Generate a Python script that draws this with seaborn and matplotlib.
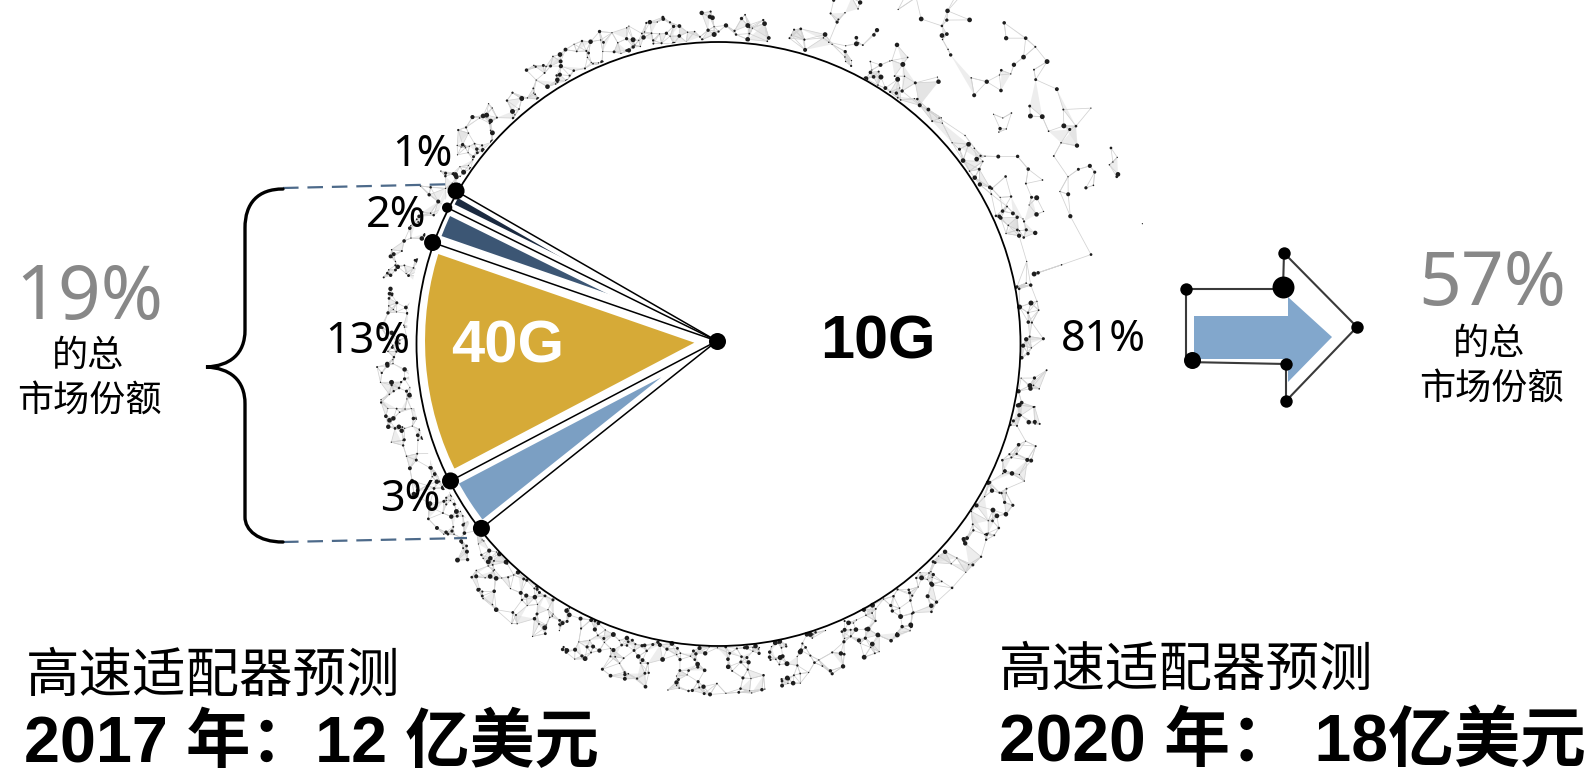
import numpy as np
import pandas as pd
import matplotlib
matplotlib.use("Agg")
import matplotlib.pyplot as plt
import seaborn as sns
from matplotlib.patches import Circle, Polygon, PathPatch
from matplotlib.path import Path
from matplotlib.collections import LineCollection, PolyCollection

# ---------------- data ----------------
slice_names = ["10G", "", "", "40G", ""]
slice_shares = [81, 1, 2, 13, 3]          # % of 2017 adapter market
slice_colors = ["#ffffff", "#1b2a40", "#3c5674", "#d6aa37", "#7b9fc3"]
share_2020 = 57                            # % of total market in 2020
forecast_title = "高速适配器预测"
forecast_years = [2017, 2020]
forecast_revenue = [12, 18]                # 亿美元
share_caption = ["的总", "市场份额"]

# ---------------- canvas ----------------
W, H = 1586, 776
sns.set_theme(style="white")
SANS = ["Noto Sans", "Noto Sans CJK SC", "DejaVu Sans"]
CJK = ["Noto Sans CJK SC", "DejaVu Sans"]
BOLD = ["Liberation Sans", "Noto Sans CJK SC", "DejaVu Sans"]
plt.rcParams["font.family"] = SANS

fig = plt.figure(figsize=(W / 100, H / 100), dpi=100)
ax = fig.add_axes([0, 0, 1, 1])


def P(x, y):
    """screen pixel (y down) -> axes coordinates (y up)"""
    return (x, H - y)


def label(x, y, s, size, color="black", weight="normal", family=SANS,
          ha="center", va="center", z=6):
    ax.text(x, H - y, s, fontsize=size, color=color, fontweight=weight,
            family=family, ha=ha, va=va, zorder=z)


# ---------------- decorative particle ring ----------------
def hsh(i, k):
    # cheap deterministic scatter for the texture
    v = np.sin(i * 12.9898 + k * 78.233) * 43758.5453
    return v - np.floor(v)


def mesh(pts, k_lines, max_len, tri_every, tri_len):
    d = np.hypot(pts[:, None, 0] - pts[None, :, 0], pts[:, None, 1] - pts[None, :, 1])
    np.fill_diagonal(d, np.inf)
    nn = np.argsort(d, axis=1)[:, :4]
    segs, tris = [], []
    for i in range(len(pts)):
        for j in nn[i, :k_lines]:
            if d[i, j] < max_len:
                segs.append([pts[i], pts[j]])
        if i % tri_every == 0:
            j, k = nn[i, 1], nn[i, 3]
            if d[i, j] < tri_len and d[i, k] < tri_len:
                tris.append([pts[i], pts[j], pts[k]])
    return segs, tris


ring_c = np.array(P(718.5, 344))
ring_R = 302

n = 1900
idx = np.arange(1, n + 1, dtype=float)
th = hsh(idx, 1) * 360
knots = [0, 30, 60, 90, 120, 150, 180, 210, 240, 270, 300, 330, 360]
band_w = [28, 20, 24, 30, 32, 36, 40, 42, 46, 50, 44, 34, 28]
band_d = [0.4, 0.1, 0.22, 0.45, 0.55, 0.65, 0.75, 0.75, 0.8, 0.85, 0.75, 0.5, 0.4]
keep = hsh(idx, 3) < np.interp(th, knots, band_d) * 0.8
rr = ring_R + 1 + np.interp(th, knots, band_w) * hsh(idx, 2) ** 1.3
ring_pts = np.c_[ring_c[0] + rr * np.cos(np.radians(th)),
                 ring_c[1] + rr * np.sin(np.radians(th))][keep]
ring_sz = hsh(idx, 4)[keep] ** 2.2

m = 420
jdx = np.arange(5001, 5001 + m, dtype=float)
th2 = 12 + 60 * hsh(jdx, 1)
r2 = ring_R + 10 + 130 * hsh(jdx, 2)
keep2 = hsh(jdx, 3) < 0.3
cl_pts = np.c_[ring_c[0] + r2 * np.cos(np.radians(th2)),
               ring_c[1] + r2 * np.sin(np.radians(th2))][keep2]
cl_sz = hsh(jdx, 4)[keep2] ** 2

seg_a, tri_a = mesh(ring_pts, 4, 50, 2, 45)
seg_b, tri_b = mesh(cl_pts, 2, 45, 5, 40)

ax.add_collection(PolyCollection(tri_a + tri_b, facecolor="#dcdcdc", edgecolor="none",
                                 alpha=0.5, zorder=1))
ax.add_collection(LineCollection(seg_a + seg_b, colors="#d2d2d2", linewidths=0.55, zorder=1.1))
dots = pd.DataFrame({"x": np.r_[ring_pts[:, 0], cl_pts[:, 0]],
                     "y": np.r_[ring_pts[:, 1], cl_pts[:, 1]],
                     "s": np.r_[ring_sz, cl_sz]})
sns.scatterplot(data=dots, x="x", y="y", size="s", sizes=(0.8, 13),
                color="#1e1e1e", linewidth=0, legend=False, ax=ax, zorder=1.2)

# ---------------- pie ----------------
pie_c = P(717, 341)
pie_r = 301
wedges, _ = ax.pie(slice_shares, colors=slice_colors, startangle=218.5,
                   counterclock=True, center=pie_c, radius=pie_r,
                   wedgeprops=dict(edgecolor="white"))
for w, lw in zip(wedges, [0, 7.5, 9, 13, 9]):
    w.set_linewidth(lw)
    w.set_zorder(2)

ax.add_patch(Circle(tuple(ring_c), ring_R, fill=False, ec="black", lw=1.3, zorder=3))

bounds = [wedges[1].theta1] + [w.theta2 for w in wedges[1:]]
ends = np.array([[pie_c[0] + pie_r * np.cos(np.radians(a)),
                  pie_c[1] + pie_r * np.sin(np.radians(a))] for a in bounds])
ax.add_collection(LineCollection([[pie_c, e] for e in ends], colors="black",
                                 linewidths=1.1, zorder=3))
node_sizes = [150, 55, 150, 150, 150]
ax.scatter(ends[:, 0], ends[:, 1], s=node_sizes, color="black", zorder=4, linewidths=0)
ax.scatter([pie_c[0]], [pie_c[1]], s=150, color="black", zorder=4, linewidths=0)

# slice labels
pct_pos = {1: (422, 155), 2: (396, 216), 3: (368, 342), 4: (410, 500), 0: (1103, 340)}
for i, v in enumerate(slice_shares):
    x, y = pct_pos[i]
    label(x, y, f"{v}%", 31)
label(508, 347, slice_names[3], 43, color="white", weight="bold", family=BOLD)
label(878, 343, slice_names[0], 44, color="black", weight="bold", family=BOLD)

# ---------------- brace and guide lines ----------------
verts = [P(283, 189), P(258, 189), P(245, 203), P(245, 228),
         P(245, 330),
         P(245, 354), P(230, 366), P(206, 367),
         P(230, 368), P(245, 380), P(245, 404),
         P(245, 517),
         P(245, 530), P(258, 542), P(283, 542)]
codes = [Path.MOVETO, Path.CURVE4, Path.CURVE4, Path.CURVE4,
         Path.LINETO,
         Path.CURVE4, Path.CURVE4, Path.CURVE4,
         Path.CURVE4, Path.CURVE4, Path.CURVE4,
         Path.LINETO,
         Path.CURVE4, Path.CURVE4, Path.CURVE4]
ax.add_patch(PathPatch(Path(verts, codes), fill=False, ec="black", lw=2.4,
                       capstyle="round", zorder=5))
for (x0, y0), (x1, y1) in [((283, 188), (460, 184)), ((283, 542), (467, 538))]:
    ax.plot([x0, x1], [H - y0, H - y1], color="#4d6a8a", lw=1.6,
            linestyle=(0, (7, 4)), zorder=2.5)

minor_share = sum(slice_shares[1:])
label(89, 299, f"{minor_share}%", 54, color="#888888")
label(88, 356, share_caption[0], 26, family=CJK)
label(89, 401, share_caption[1], 26, family=CJK)

# ---------------- growth arrow ----------------
ax.add_patch(Polygon([P(*p) for p in [(1194, 316), (1288, 316), (1288, 297), (1332, 337),
                                      (1288, 382), (1288, 359), (1194, 359)]],
                     closed=True, fc="#82a7cc", ec="none", zorder=4))
ax.add_patch(Polygon([P(*p) for p in [(1186, 289), (1283, 289), (1284, 253), (1357, 327),
                                      (1286, 401), (1286, 364), (1186, 362)]],
                     closed=True, fill=False, ec="#3a3a3a", lw=1.5, zorder=4.5))
small = np.array([P(*p) for p in [(1186, 289), (1284, 253), (1357, 327), (1286, 401), (1286, 364)]])
ax.scatter(small[:, 0], small[:, 1], s=80, color="black", zorder=5, linewidths=0)
ax.scatter([1283], [H - 287], s=250, color="black", zorder=5, linewidths=0)
ax.scatter([1192], [H - 360], s=150, color="black", zorder=5, linewidths=0)

label(1492, 286, f"{share_2020}%", 54, color="#888888")
label(1489, 344, share_caption[0], 26, family=CJK)
label(1491, 389, share_caption[1], 26, family=CJK)

# ---------------- forecast captions ----------------
label(26, 676, forecast_title, 38.5, family=CJK, ha="left")
label(24, 744, f"{forecast_years[0]} 年：{forecast_revenue[0]} 亿美元", 46.5,
      weight="bold", family=BOLD, ha="left")
label(999, 670, forecast_title, 38.5, family=CJK, ha="left")
label(999, 744, f"{forecast_years[1]} 年： {forecast_revenue[1]}亿美元", 47.5,
      weight="bold", family=BOLD, ha="left")

ax.set_xlim(0, W)
ax.set_ylim(0, H)
ax.set_aspect("equal")
ax.axis("off")
fig.savefig("out.png", dpi=100, facecolor="white")
